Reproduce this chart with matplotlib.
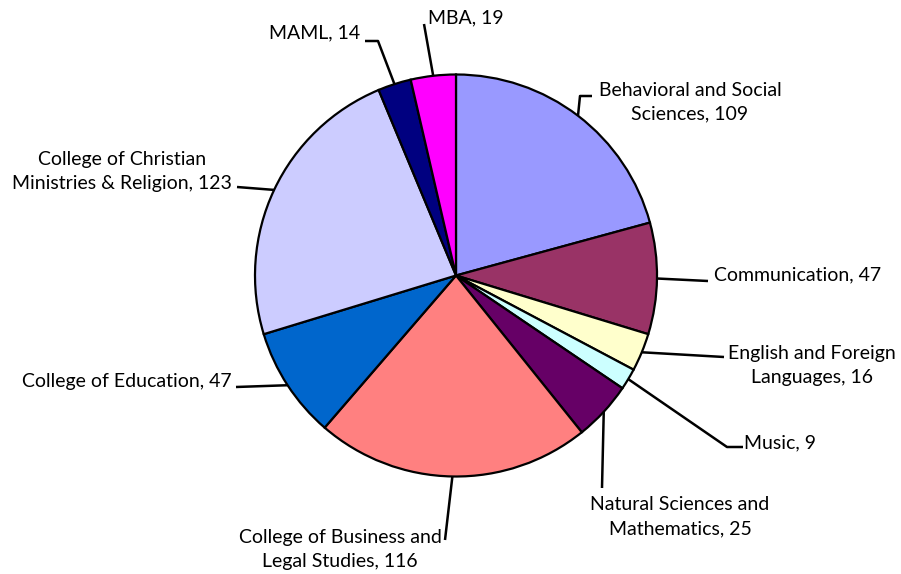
import matplotlib.pyplot as plt
import numpy as np

# data
categorias = ['Behavioral and Social\nSciences', 'Communication', 'English and Foreign\nLanguages',
              'Music', 'Natural Sciences and\nMathematics', 'College of Business and\nLegal Studies',
              'College of Education', 'College of Christian\nMinistries & Religion', 'MAML', 'MBA']
valores = [109, 47, 16, 9, 25, 116, 47, 123, 14, 19]
colores = ['#9999FF', '#993366', '#FFFFCC', '#CCFFFF', '#660066', '#FF8080',
           '#0066CC', '#CCCCFF', '#000080', '#FF00FF']

# layout en pixeles (y hacia abajo): codo de la linea, fin de la linea, posicion del texto, alineacion
W, H = 901, 574
centro = (456, 275.5)
radio = 201
etiquetas_pos = [
    ((580, 96), (592, 96), (690, 102), 'center'),
    ((708, 281), (708, 281), (714, 275), 'left'),
    ((724, 357), (724, 357), (812, 366), 'center'),
    ((727, 447), (743, 447), (744, 443), 'left'),
    ((602, 488), (602, 488), (680, 517), 'center'),
    ((445, 540), (445, 540), (340, 550), 'center'),
    ((236, 387), (236, 387), (232, 381), 'right'),
    ((237, 187), (237, 187), (122, 171), 'center'),
    ((378, 41), (365, 41), (360, 33), 'right'),
    ((424, 24), (424, 24), (428, 18), 'left'),
]

plt.rcParams['font.family'] = ['Lato', 'DejaVu Sans']

fig = plt.figure(figsize=(W / 100, H / 100), dpi=100)
ax = fig.add_axes([0, 0, 1, 1])

cx, cy = centro[0], H - centro[1]
wedges, _ = ax.pie(valores, colors=colores, startangle=90, counterclock=False,
                   center=(cx, cy), radius=radio,
                   wedgeprops=dict(edgecolor='black', linewidth=1.6))
ax.set_xlim(0, W)
ax.set_ylim(0, H)
ax.set_aspect('equal')
ax.axis('off')

total = float(sum(valores))
acum = np.cumsum([0] + valores)
for i, nombre in enumerate(categorias):
    medio = (acum[i] + acum[i + 1]) / 2.0 / total * 2 * np.pi
    x0 = cx + radio * np.sin(medio)
    y0 = cy + radio * np.cos(medio)
    codo, fin, txt, alin = etiquetas_pos[i]
    xs = [x0, codo[0], fin[0]]
    ys = [y0, H - codo[1], H - fin[1]]
    ax.plot(xs, ys, color='black', lw=1.8, solid_capstyle='butt')
    ax.text(txt[0], H - txt[1], nombre + ', ' + str(valores[i]), ha=alin, va='center',
            fontsize=14, linespacing=1.5, multialignment='center')

plt.savefig('out.png', dpi=100, facecolor='white')
plt.close()
